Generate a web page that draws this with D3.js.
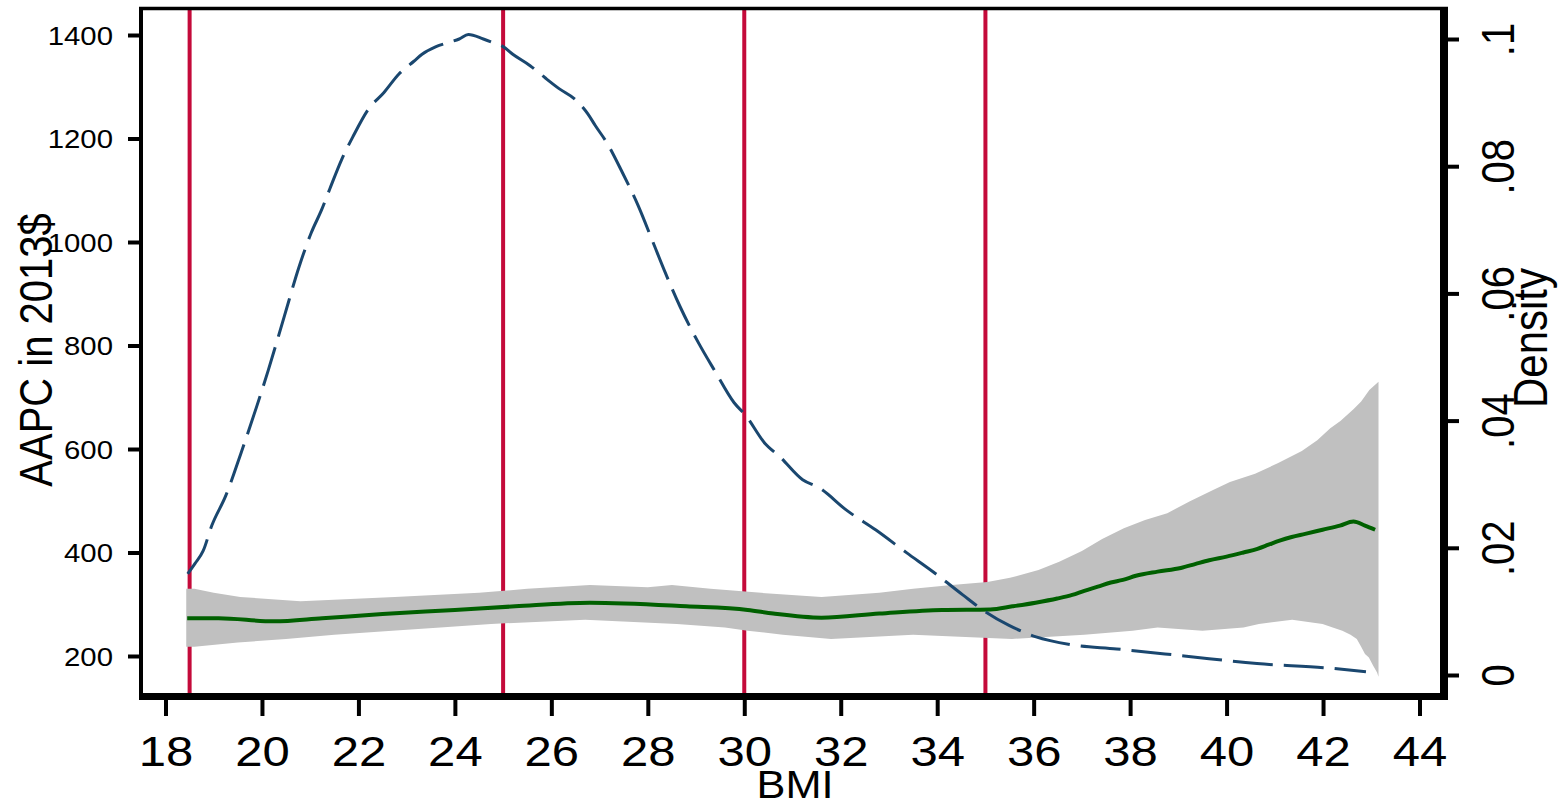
<!DOCTYPE html>
<html>
<head>
<meta charset="utf-8">
<script src="https://cdn.jsdelivr.net/npm/d3@7"></script>
<style>
  body { margin: 0; background: #fff; }
  svg { display: block; font-family: "Liberation Sans", Arial, sans-serif; }
</style>
</head>
<body>
<div id="chart"></div>
<script>
// BMI cut points (vertical lines)
var cutPoints = [18.5, 25, 30, 35];

var xTicks = [18, 20, 22, 24, 26, 28, 30, 32, 34, 36, 38, 40, 42, 44];
var leftTicks = [200, 400, 600, 800, 1000, 1200, 1400];
var rightTicks = [0, 0.02, 0.04, 0.06, 0.08, 0.1];
var rightTickLabels = ["0", ".02", ".04", ".06", ".08", ".1"];

// kernel density of BMI (right axis)
var densityBmi = [18.46, 18.61, 18.78, 18.96, 19.25, 19.57, 19.89, 20.13, 20.46, 20.77,
  21.02, 21.24, 21.41, 21.65, 21.89, 22.20, 22.53, 22.84, 23.15, 23.32,
  23.61, 23.84, 24.09, 24.28, 24.59, 24.80, 25.00, 25.20, 25.56, 25.87,
  26.16, 26.51, 26.76, 26.91, 27.15, 27.46, 27.80, 28.11, 28.36, 28.67,
  29.06, 29.39, 29.79, 30.02, 30.43, 30.74, 31.21, 31.54, 32.14, 32.73,
  33.37, 33.92, 34.53, 34.95, 35.49, 36.05, 36.75, 37.72, 39.12, 40.63,
  42.10, 42.89];
var densityVal = [0.0159, 0.0175, 0.0195, 0.0235, 0.0282, 0.0350, 0.0422, 0.0479, 0.0563, 0.0642,
  0.0695, 0.0732, 0.0765, 0.0810, 0.0847, 0.0889, 0.0916, 0.0945, 0.0965, 0.0976,
  0.0988, 0.0994, 0.1000, 0.1007, 0.1000, 0.0994, 0.0988, 0.0976, 0.0958, 0.0939,
  0.0922, 0.0904, 0.0882, 0.0864, 0.0837, 0.0792, 0.0738, 0.0680, 0.0633, 0.0579,
  0.0521, 0.0478, 0.0428, 0.0409, 0.0364, 0.0343, 0.0307, 0.0295, 0.0258, 0.0228,
  0.0192, 0.0162, 0.0126, 0.0102, 0.0078, 0.0060, 0.0048, 0.0041, 0.0030, 0.0018,
  0.0011, 0.0005];

// fitted AAPC (left axis)
var fitBmi = [18.45, 19.1, 20.25, 21.25, 22.5, 24.0, 25.25, 26.8, 28.8, 30.07,
  30.6, 31.6, 32.8, 34.1, 35.1, 35.56, 36.04, 36.49, 36.8, 37.05,
  37.33, 37.6, 37.85, 38.12, 38.57, 39.05, 39.36, 39.64, 40.0, 40.35,
  40.64, 40.87, 41.1, 41.35, 41.63, 41.99, 42.35, 42.63, 42.87, 43.08];
var fitVal = [273, 273, 267, 273, 281, 289, 296, 303, 296, 289,
  282, 274, 282, 289, 290, 296, 303, 311, 318, 326,
  334, 342, 347, 355, 363, 370, 378, 385, 392, 400,
  407, 415, 423, 430, 436, 444, 452, 460, 452, 444];

// confidence band
var upperBmi = [18.43, 18.6, 19.0, 19.55, 20.8, 22.75, 24.5, 25.5, 26.8, 28.0,
  28.5, 29.3, 30.35, 31.6, 32.8, 33.5, 34.3, 35.04, 35.51, 36.1,
  36.53, 37.0, 37.42, 37.87, 38.31, 38.77, 39.24, 39.72, 40.07, 40.59,
  41.07, 41.56, 41.88, 42.15, 42.36, 42.63, 42.79, 42.96, 43.15];
var upperVal = [330, 330, 322, 314, 306, 314, 322, 330, 337, 333,
  337, 330, 322, 314, 322, 330, 337, 343, 351, 366,
  382, 403, 426, 447, 463, 476, 499, 521, 536, 552,
  573, 596, 617, 640, 654, 677, 692, 714, 730];
var lowerBmi = [18.43, 18.6, 19.5, 20.5, 21.5, 22.7, 23.7, 24.75, 26.7, 28.6,
  29.6, 30.07, 30.8, 31.8, 33.5, 35.55, 37.05, 38.05, 38.57, 39.5,
  40.35, 40.67, 41.36, 41.99, 42.2, 42.4, 42.57, 42.7, 42.79, 42.87,
  42.95, 43.04, 43.12, 43.15];
var lowerVal = [218, 218, 226, 233, 241, 249, 255, 262, 270, 262,
  255, 249, 241, 233, 241, 233, 241, 249, 255, 249,
  255, 262, 270, 262, 255, 249, 241, 233, 218, 204,
  197, 181, 168, 160];

var width = 1558, height = 799;
var frame = {left: 141, right: 1444, top: 8.5, bottom: 696.5};

var svg = d3.select("#chart")
  .append("svg")
    .attr("width", width)
    .attr("height", height);

svg.append("rect").attr("width", width).attr("height", height).attr("fill", "#fff");

var x = d3.scaleLinear().domain([18, 44]).range([165.5, 1419.5]);
var yL = d3.scaleLinear().domain([200, 1400]).range([656, 35]);
var yR = d3.scaleLinear().domain([0, 0.1]).range([675, 39]);

// cut point lines
svg.selectAll(".cut")
  .data(cutPoints)
  .enter()
  .append("line")
    .attr("class", "cut")
    .attr("x1", function(d) { return x(d); })
    .attr("x2", function(d) { return x(d); })
    .attr("y1", frame.top)
    .attr("y2", frame.bottom - 3)
    .style("stroke", "#c40a3a")
    .style("stroke-width", 4);

// confidence band as closed polygon
var bandPts = upperBmi.map(function(b, i) { return [b, upperVal[i]]; })
  .concat(lowerBmi.map(function(b, i) { return [b, lowerVal[i]]; }).reverse());
svg.append("path")
  .attr("d", d3.line()
    .x(function(d) { return x(d[0]); })
    .y(function(d) { return yL(d[1]); })(bandPts) + "Z")
  .style("fill", "#c0c0c0")
  .style("stroke", "none");

// fitted line
svg.append("path")
  .datum(fitBmi.map(function(b, i) { return [b, fitVal[i]]; }))
  .attr("d", d3.line()
    .curve(d3.curveMonotoneX)
    .x(function(d) { return x(d[0]); })
    .y(function(d) { return yL(d[1]); }))
  .style("fill", "none")
  .style("stroke", "#006000")
  .style("stroke-width", 4);

// density line
svg.append("path")
  .datum(densityBmi.map(function(b, i) { return [b, densityVal[i]]; }))
  .attr("d", d3.line()
    .curve(d3.curveMonotoneX)
    .x(function(d) { return x(d[0]); })
    .y(function(d) { return yR(d[1]); }))
  .style("fill", "none")
  .style("stroke", "#1a476f")
  .style("stroke-width", 3)
  .style("stroke-dasharray", "40 11");

// axes
var gLeft = svg.append("g")
  .attr("transform", "translate(" + frame.left + ",0)")
  .call(d3.axisLeft(yL).tickValues(leftTicks).tickSize(13).tickSizeOuter(0)
    .tickFormat(d3.format("d")));
gLeft.select(".domain").remove();
gLeft.selectAll(".tick line").style("stroke", "#000").style("stroke-width", 4);
gLeft.selectAll(".tick text")
  .attr("x", -28 / 1.13)
  .attr("dy", "0.36em")
  .attr("transform", "scale(1.13,1)")
  .style("font-size", "26px")
  .style("fill", "#000")
  .style("font-family", "Liberation Sans, Arial, sans-serif");

var gBottom = svg.append("g")
  .attr("transform", "translate(0,693)")
  .call(d3.axisBottom(x).tickValues(xTicks).tickSize(23).tickPadding(19).tickSizeOuter(0));
gBottom.select(".domain").remove();
gBottom.selectAll(".tick line").style("stroke", "#000").style("stroke-width", 4);
gBottom.selectAll(".tick text")
  .attr("transform", "scale(1.14,1)")
  .style("font-size", "43px")
  .style("fill", "#000")
  .style("font-family", "Liberation Sans, Arial, sans-serif");

var gRight = svg.append("g")
  .attr("transform", "translate(" + frame.right + ",0)")
  .call(d3.axisRight(yR).tickValues(rightTicks).tickSize(15).tickSizeOuter(0)
    .tickFormat(function(d, i) { return rightTickLabels[i]; }));
gRight.select(".domain").remove();
gRight.selectAll(".tick line").style("stroke", "#000").style("stroke-width", 4);
gRight.selectAll(".tick text")
  .attr("x", null)
  .attr("dy", null)
  .attr("text-anchor", "middle")
  .attr("transform", "translate(70,0) rotate(-90) scale(1,1.15)")
  .style("font-size", "40px")
  .style("fill", "#000")
  .style("font-family", "Liberation Sans, Arial, sans-serif");

// frame
var border = [
  {x1: 139, y1: frame.top, x2: 1448, y2: frame.top, w: 3.5},
  {x1: frame.left, y1: 7, x2: frame.left, y2: 700, w: 4},
  {x1: frame.right, y1: 7, x2: frame.right, y2: 700, w: 8},
  {x1: 139, y1: frame.bottom, x2: 1448, y2: frame.bottom, w: 7}
];
svg.selectAll(".border")
  .data(border)
  .enter()
  .append("line")
    .attr("x1", function(d) { return d.x1; })
    .attr("y1", function(d) { return d.y1; })
    .attr("x2", function(d) { return d.x2; })
    .attr("y2", function(d) { return d.y2; })
    .style("stroke", "#000")
    .style("stroke-width", function(d) { return d.w; });

// axis titles
svg.append("text")
  .attr("transform", "translate(52,350) rotate(-90) scale(1,1.15)")
  .attr("text-anchor", "middle")
  .style("font-size", "40px")
  .text("AAPC in 2013$");

svg.append("text")
  .attr("transform", "translate(1547,338) rotate(-90) scale(1,1.15)")
  .attr("text-anchor", "middle")
  .style("font-size", "42px")
  .text("Density");

svg.append("text")
  .attr("transform", "translate(795,798) scale(1.14,1)")
  .attr("text-anchor", "middle")
  .style("font-size", "38px")
  .text("BMI");
</script>
</body>
</html>
